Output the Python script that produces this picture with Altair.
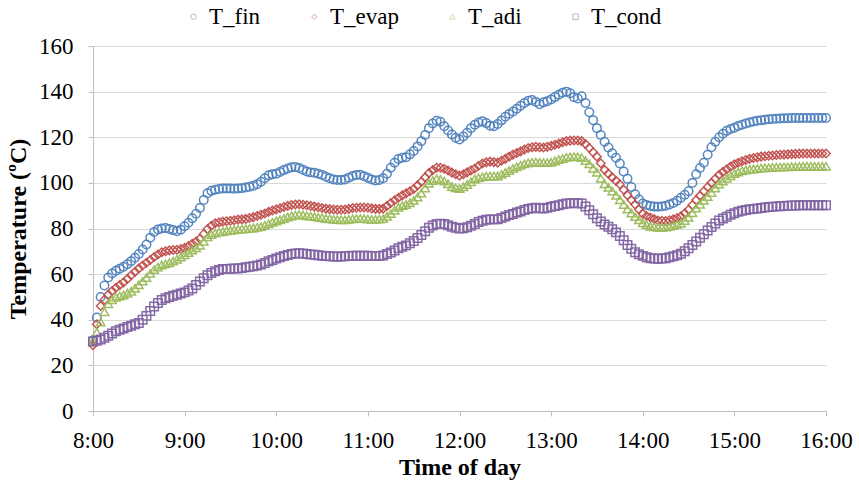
import altair as alt
import pandas as pd

# Readings on the 5-minute marks (8:00, 8:05, ... 16:00)
step_minutes = list(range(0, 481, 5))
# Readings half-way between them (8:02.5, 8:07.5, ... 15:57.5)
half_minutes = [m + 2.5 for m in range(0, 480, 5)]

t_fin = [
    31, 50, 58.5, 61.5, 63.2, 65.7, 68.8, 73, 78.5, 80, 79.8, 78.8,
    81, 84.5, 89, 95.5, 97, 97.5, 97.5, 97.5, 98, 98.7, 100.5, 103.3,
    104, 105.6, 106.8, 106.5, 105, 104.4, 103.5, 102, 101.3, 101.5, 103, 103.6,
    102.2, 101, 102, 106.6, 110.5, 111.2, 114, 118.3, 124, 127.2, 124.8, 121.2,
    119, 122, 125.5, 127, 125, 125.8, 129, 131.3, 133.8, 136, 135.5, 135.3,
    136.6, 138.6, 140, 137.5, 138, 131, 124, 118, 113, 108.5, 101.8, 95,
    91, 89.9, 89.5, 90, 91.2, 93.5, 96.3, 103.8, 108.8, 115.6, 120, 122.8,
    124.2, 125.5, 126.5, 127.2, 127.7, 128, 128.2, 128.3, 128.4, 128.4, 128.4, 128.4,
    128.4,
]
t_fin_half = [
    41, 55, 60.3, 62.4, 64.3, 67.2, 70.8, 76, 79.6, 80.2, 79.3, 79.5,
    82.5, 86.5, 92.5, 96.5, 97.3, 97.5, 97.4, 97.7, 98.3, 99.4, 102, 103.8,
    104.8, 106.3, 107, 105.8, 104.6, 104, 102.7, 101.5, 101.3, 102.3, 103.5, 102.9,
    101.5, 101.3, 104, 108.8, 111, 112.5, 116, 121, 126, 126.8, 123, 119.8,
    120.3, 124, 126.5, 126.2, 124.8, 127.4, 130.2, 132.5, 135, 136.3, 134.5, 135.8,
    137.6, 139.5, 139.3, 137, 135, 127.5, 121, 115.5, 111, 105, 98.2, 92.8,
    90.3, 89.6, 89.7, 90.5, 92.2, 94.8, 100, 106.5, 112.3, 118, 121.5, 123.6,
    124.9, 126, 126.9, 127.5, 127.9, 128.1, 128.3, 128.4, 128.4, 128.4, 128.4, 128.4,
]

t_evap = [
    28.8, 46, 51, 54, 56.4, 59.5, 62.5, 65, 67.5, 69.6, 70.4, 70.7,
    71.5, 73.3, 75.5, 79.8, 82.3, 83, 83.4, 83.9, 84.2, 85, 86, 87.3,
    88.4, 89.4, 90.3, 90.6, 90.2, 89.6, 89, 88.5, 88.2, 88.3, 89, 89.2,
    89.1, 88.6, 88.7, 91.2, 93.5, 95.4, 97.3, 100.5, 104.3, 106.6, 106.2, 104.5,
    103.2, 104.6, 106.3, 108.5, 109.3, 108.9, 110.5, 112.4, 113.8, 115.3, 115.8, 115.5,
    116.2, 117.2, 118.3, 118.6, 118.3, 115.3, 111.5, 105.7, 102.4, 99.4, 94.6, 90.5,
    86.5, 84.8, 83.5, 83.3, 84, 85.3, 88.2, 92.5, 96.3, 100, 103.5, 106,
    108.1, 109.5, 110.5, 111.2, 111.7, 112, 112.3, 112.5, 112.7, 112.9, 112.9, 112.9,
    112.9,
]
t_evap_half = [
    38, 48.8, 52.6, 55.2, 57.9, 61, 63.8, 66.2, 68.6, 70, 70.6, 71,
    72.3, 74.3, 77.6, 81.2, 82.7, 83.2, 83.6, 84, 84.6, 85.5, 86.6, 87.9,
    88.9, 89.9, 90.5, 90.4, 89.9, 89.3, 88.7, 88.3, 88.2, 88.6, 89.1, 89.2,
    88.8, 88.6, 89.9, 92.4, 94.5, 96.3, 98.9, 102.4, 105.6, 106.6, 105.4, 103.8,
    103.8, 105.5, 107.5, 109, 109.1, 109.7, 111.5, 113.1, 114.6, 115.6, 115.6, 115.8,
    116.7, 117.8, 118.5, 118.6, 117, 113.4, 108.6, 104, 100.9, 97, 92.5, 88.4,
    85.5, 84.1, 83.4, 83.6, 84.6, 86.7, 90.3, 94.4, 98.2, 101.8, 104.8, 107.1,
    108.8, 110, 110.9, 111.5, 111.9, 112.2, 112.4, 112.6, 112.8, 112.9, 112.9, 112.9,
]

t_adi = [
    31, 39, 47, 49.8, 50.8, 52.5, 55.3, 58.5, 62, 64, 65, 66.5,
    68.5, 70.5, 72.6, 76.3, 78, 78.7, 79.2, 79.6, 79.9, 80.2, 80.8, 82.1,
    83.3, 84.4, 85.5, 86.1, 85.6, 85.2, 84.7, 84.2, 83.9, 83.8, 84.2, 84.4,
    84.1, 84, 84.3, 86.5, 89.3, 90.5, 92.3, 95.5, 99.8, 101.8, 100.8, 98.4,
    97.5, 99.3, 101.7, 102.6, 103, 103, 104.5, 106.3, 107.7, 108.8, 109.1, 108.9,
    109, 110.2, 111.2, 111.5, 111.1, 108.3, 104.6, 99.6, 96.4, 92.6, 88.5, 85.2,
    82.5, 81, 80.5, 80.6, 81.3, 82.3, 84.9, 88.9, 92.3, 95.8, 99.5, 102,
    104.1, 105.3, 105.9, 106.3, 106.6, 106.8, 106.9, 107, 107.1, 107.3, 107.3, 107.3,
    107.3,
]
t_adi_half = [
    34.5, 43.5, 48.7, 50.4, 51.6, 53.8, 56.9, 60.3, 63.1, 64.5, 65.7, 67.5,
    69.5, 71.5, 74.4, 77.3, 78.4, 79, 79.4, 79.8, 80, 80.5, 81.4, 82.7,
    83.8, 85, 85.9, 85.9, 85.4, 84.9, 84.4, 84, 83.8, 84, 84.3, 84.3,
    84, 84.1, 85.3, 88, 90, 91.3, 93.8, 97.7, 101, 101.5, 99.6, 97.8,
    98.3, 100.5, 102.2, 102.9, 103, 103.7, 105.4, 107, 108.3, 109, 109, 108.9,
    109.6, 110.7, 111.4, 111.4, 109.8, 106.4, 102, 98, 94.5, 90.5, 86.8, 83.8,
    81.7, 80.7, 80.5, 80.9, 81.8, 83.5, 86.9, 90.6, 94, 97.7, 100.8, 103.1,
    104.7, 105.6, 106.1, 106.5, 106.7, 106.9, 107, 107.1, 107.2, 107.3, 107.3, 107.3,
]

t_cond = [
    30.5, 31.3, 33, 35, 36.2, 37.4, 38.6, 41.7, 45.8, 48.7, 50, 51,
    52, 53.7, 56.8, 59.5, 61.3, 62.2, 62.4, 62.5, 63, 63.5, 64.2, 65.6,
    66.8, 67.9, 68.8, 69.2, 68.8, 68.5, 68.1, 67.8, 67.6, 67.8, 68.1, 68.1,
    68.1, 67.9, 68.2, 69.5, 71.3, 72.6, 74.5, 77.2, 80.3, 82, 82, 80.8,
    80, 80.5, 82, 83.4, 84, 84, 85.3, 86.4, 87.5, 88.6, 89.1, 88.8,
    89.5, 90.2, 91, 91.2, 91, 88, 84.5, 81.8, 79.7, 76.7, 72.8, 69.6,
    68, 67, 66.7, 67, 67.8, 68.9, 71.3, 74.3, 77.5, 80.7, 83.5, 85.2,
    86.7, 87.8, 88.4, 88.8, 89.2, 89.5, 89.8, 90, 90.1, 90.2, 90.2, 90.2,
    90.2,
]
t_cond_half = [
    30.8, 32.1, 34, 35.6, 36.8, 38, 40, 43.8, 47.3, 49.4, 50.5, 51.5,
    52.8, 55.2, 58.2, 60.5, 61.8, 62.3, 62.5, 62.7, 63.2, 63.8, 64.9, 66.2,
    67.4, 68.4, 69, 69, 68.6, 68.3, 67.9, 67.7, 67.7, 68, 68.1, 68.1,
    68, 68, 68.8, 70.4, 72, 73.5, 75.8, 78.8, 81.3, 82.1, 81.4, 80.3,
    80.1, 81.2, 82.8, 83.8, 84, 84.6, 85.9, 87, 88.1, 88.9, 88.9, 89.1,
    89.9, 90.6, 91.1, 91.1, 89.6, 86.2, 83.1, 80.8, 78.3, 74.8, 71.1, 68.7,
    67.4, 66.8, 66.8, 67.4, 68.3, 70, 72.8, 75.9, 79.1, 82.2, 84.4, 86,
    87.3, 88.1, 88.6, 89, 89.4, 89.7, 89.9, 90.1, 90.2, 90.2, 90.2, 90.2,
]

series_names = ["T_fin", "T_evap", "T_adi", "T_cond"]
series_colors = ["#4F81BD", "#C0504D", "#9BBB59", "#8064A2"]
series_shapes = ["circle", "diamond", "triangle-up", "square"]
hour_ticks = [8, 9, 10, 11, 12, 13, 14, 15, 16]
temp_ticks = [0, 20, 40, 60, 80, 100, 120, 140, 160]

series_data = [
    (t_fin, t_fin_half),
    (t_evap, t_evap_half),
    (t_adi, t_adi_half),
    (t_cond, t_cond_half),
]

rows = []
for order, (name, (on_step, on_half)) in enumerate(zip(series_names, series_data)):
    samples = list(zip(step_minutes, on_step)) + list(zip(half_minutes, on_half))
    for m, v in sorted(samples):
        rows.append({"hour": 8 + m / 60, "temp": v, "series": name, "order": order})
df = pd.DataFrame(rows)

FONT = "Liberation Serif"
AXIS_GREY = "#bfbfbf"

series_legend = alt.Legend(
    title=None,
    orient="none",
    legendX=89,
    legendY=-41,
    direction="horizontal",
    columns=4,
    columnPadding=42,
    padding=0,
    labelFont=FONT,
    labelFontSize=23,
    labelColor="black",
    labelOffset=4,
    symbolSize=30,
    symbolStrokeWidth=1,
    symbolOpacity=0.5,
)

chart = (
    alt.Chart(df)
    .mark_point(filled=False, size=72, strokeWidth=1.5, opacity=0.95)
    .encode(
        x=alt.X(
            "hour:Q",
            scale=alt.Scale(domain=[8, 16], nice=False),
            axis=alt.Axis(
                values=hour_ticks,
                labelExpr="datum.value + ':00'",
                title="Time of day",
                grid=False,
                tickSize=5,
                labelPadding=13,
                labelFlush=False,
                labelOverlap=False,
                domainColor=AXIS_GREY,
                tickColor=AXIS_GREY,
                labelFont=FONT,
                labelFontSize=23,
                labelColor="black",
                titleFont=FONT,
                titleFontSize=24,
                titleFontWeight="bold",
                titleColor="black",
                titlePadding=3,
            ),
        ),
        y=alt.Y(
            "temp:Q",
            scale=alt.Scale(domain=[0, 160], nice=False),
            axis=alt.Axis(
                values=temp_ticks,
                title="Temperature (ºC)",
                grid=True,
                gridColor="#d9d9d9",
                tickSize=5,
                labelPadding=15,
                domainColor=AXIS_GREY,
                tickColor=AXIS_GREY,
                labelFont=FONT,
                labelFontSize=23,
                labelColor="black",
                titleFont=FONT,
                titleFontSize=24,
                titleFontWeight="bold",
                titleColor="black",
                titlePadding=8,
            ),
        ),
        color=alt.Color(
            "series:N",
            scale=alt.Scale(domain=series_names, range=series_colors),
            legend=series_legend,
        ),
        shape=alt.Shape(
            "series:N",
            scale=alt.Scale(domain=series_names, range=series_shapes),
            legend=series_legend,
        ),
        order=alt.Order("order:Q"),
    )
    .properties(
        width=733,
        height=365,
        autosize=alt.AutoSizeParams(type="none"),
        padding={"left": 93, "top": 46, "right": 33, "bottom": 84},
        background="white",
    )
    .configure(font=FONT)
    .configure_legend(labelFont=FONT, labelFontSize=23, labelColor="black")
    .configure_view(stroke=None)
)

chart.save("out.html", embed_options={"renderer": "svg", "actions": False})
